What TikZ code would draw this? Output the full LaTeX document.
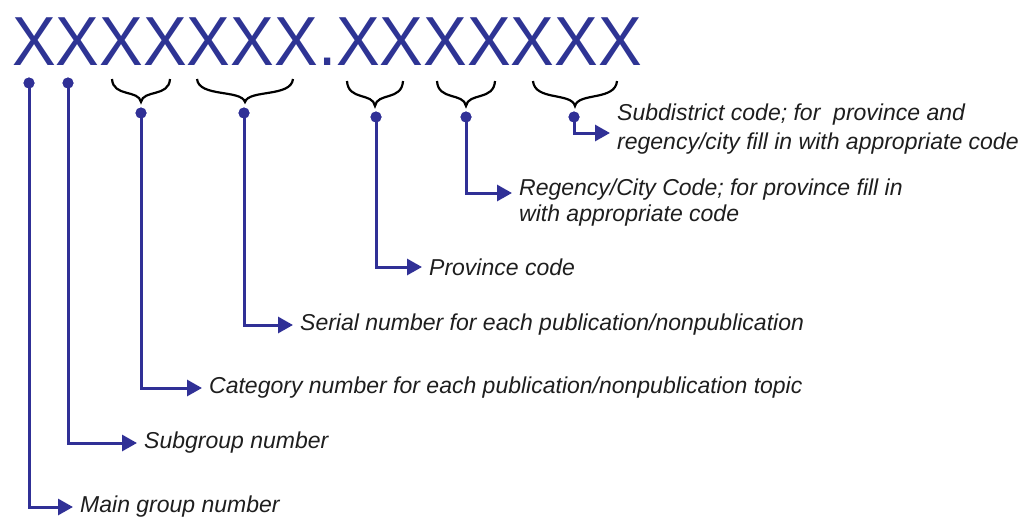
\documentclass[tikz,border=0pt]{standalone}
\usepackage{fontspec}
\setmainfont{Liberation Sans}
\usetikzlibrary{arrows.meta,calc}
\definecolor{xblue}{RGB}{46,52,148}
\definecolor{lblue}{RGB}{48,48,150}
\definecolor{txt}{RGB}{30,30,30}
\newcommand\mybrace[4]{% L R top tip
  \draw[brc] (#1,#3) .. controls ({#1+0.02*(#2-#1)},{#3+0.8*(#4-#3)}) and ({(#1+#2)/2-0.04*(#2-#1)},{#3+0.45*(#4-#3)}) .. ({(#1+#2)/2},#4)
    .. controls ({(#1+#2)/2+0.04*(#2-#1)},{#3+0.45*(#4-#3)}) and ({#2-0.02*(#2-#1)},{#3+0.8*(#4-#3)}) .. (#2,#3);}
\begin{document}
\begin{tikzpicture}[x=1pt,y=-1pt,
 conn/.style={draw=lblue,line width=3pt,-{Triangle[length=15pt,width=16pt]}},
 dotn/.style={circle,fill=lblue,inner sep=0pt,minimum size=11pt},
 lab/.style={anchor=west,font=\fontsize{23}{26}\selectfont\itshape,text=txt,inner xsep=7pt,inner ysep=0pt,align=left},
 brc/.style={draw=black,line width=2.2pt}]
\useasboundingbox (0,0) rectangle (1030,517);
\node[anchor=base west,inner sep=0pt,text=xblue,font=\fontsize{65.5}{70}\selectfont,yscale=1.06] (code) at (12,65) {XXXXXXX.XXXXXXX};
% braces
\mybrace{112}{170}{79}{102}
\mybrace{197}{293}{79}{102}
\mybrace{347}{403}{81}{106}
\mybrace{437}{495}{81}{106}
\mybrace{533}{617}{81}{106}
% dots
\node[dotn] (d1) at (29,83) {};
\node[dotn] (d2) at (68,83) {};
\node[dotn] (d3) at (141,113) {};
\node[dotn] (d4) at (244,113) {};
\node[dotn] (d5) at (376,117) {};
\node[dotn] (d6) at (466,117) {};
\node[dotn] (d7) at (574,117) {};
% labels
\node[lab] (t1) at (73,507) {Main group number};
\node[lab] (t2) at (137,443) {Subgroup number};
\node[lab] (t3) at (202,388) {Category number for each publication/nonpublication topic};
\node[lab] (t4) at (293,325) {Serial number for each publication/nonpublication};
\node[lab] (t5) at (422,267) {Province code};
\node[lab] (t6) at (512,202.5) {Regency/City Code; for province fill in\\with appropriate code};
\node[lab,font=\fontsize{23}{29}\selectfont\itshape] (t7) at (610,129) {Subdistrict code; for\ \ province and\\regency/city fill in with appropriate code};
% connectors
\draw[conn] (d1.center) |- (t1.west);
\draw[conn] (d2.center) |- (t2.west);
\draw[conn] (d3.center) |- (t3.west);
\draw[conn] (d4.center) |- (t4.west);
\draw[conn] (d5.center) |- (t5.west);
\draw[conn] (d6.center) |- ([yshift=9.5pt]t6.west);
\draw[conn] (d7.center) |- ([yshift=-4pt]t7.west);
\foreach \d in {d1,d2,d3,d4,d5,d6,d7} \fill[lblue] (\d) circle (5.5pt);
\end{tikzpicture}
\end{document}
